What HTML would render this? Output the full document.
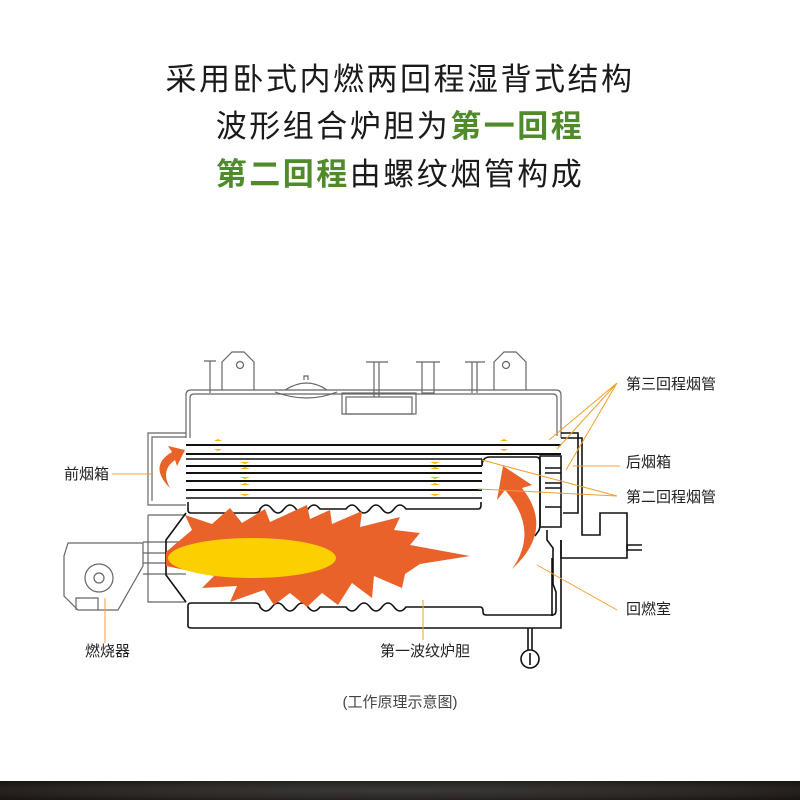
<!DOCTYPE html>
<html><head><meta charset="utf-8"><style>
body{margin:0;width:800px;height:800px;background:#fff;overflow:hidden;position:relative;font-family:"Liberation Sans","Noto Sans CJK SC",sans-serif}
.t{position:absolute;left:0;width:800px;text-align:center;font-size:31px;color:#1a1a1a;letter-spacing:2.5px;line-height:40px}
.g{color:#4f8a2b;font-weight:bold}
.bar{position:absolute;left:0;top:781px;width:800px;height:19px;background:radial-gradient(ellipse at center,#3b3a38 0%,#2a2624 60%,#1a120e 100%)}
</style></head><body>
<div class="t" style="top:60px">采用卧式内燃两回程湿背式结构</div>
<div class="t" style="top:107px">波形组合炉胆为<span class="g">第一回程</span></div>
<div class="t" style="top:155px"><span class="g">第二回程</span>由螺纹烟管构成</div>
<svg width="800" height="800" style="position:absolute;left:0;top:0" font-family="Liberation Sans,Noto Sans CJK SC,sans-serif">
<g fill="none" stroke="#666" stroke-width="1.2">
<path d="M186 438 V395 q0-5 5-5 H556 q5 0 5 5 V438"/>
<path d="M190 438 V398 q0-4 4-4 H553 q4 0 4 4 V436"/>
<path d="M222 390 V362 l10-10 h12 l10 10 V390"/><circle cx="240" cy="365" r="3.5"/>
<path d="M494 390 V362 l10-10 h12 l10 10 V390"/><circle cx="506" cy="365" r="3.5"/>
<path d="M204 361 h12 M210 361 V393"/>
<path d="M366 362 h22 M374 362 V397 M379 362 V397"/>
<path d="M416 362 h24 M422 362 V393 h12 V362"/>
<path d="M465 362 h20 M472 362 V393 M477 362 V393"/>
<path d="M275 392 q32 12 62 0 M285 390 q22-14 42 0"/>
<path d="M304 380 v-4 h4 v4"/>
<rect x="342" y="393" width="74" height="21"/>
<rect x="346" y="397" width="66" height="17"/>
<path d="M186 433 H148 V505 H186"/><path d="M186 437 H152 V501"/>
<path d="M148 515 H186"/>
<path d="M148 515 V602 H186"/>
<path d="M143 542 H186 M143 553 H186 M143 563 H186 M143 574 H186"/>
<path d="M68 543 H143 V566 L118 610 H78 L64 596 V556 Z"/>
<circle cx="99" cy="578" r="14"/><circle cx="99" cy="578" r="5"/>
<path d="M76 610 V598 H98 V610"/>
</g>
<g stroke="#111" stroke-width="2">
<line x1="186" y1="445" x2="561" y2="445"/>
<line x1="186" y1="454" x2="561" y2="454"/>
<line x1="186" y1="466" x2="482" y2="466"/>
<line x1="186" y1="473" x2="482" y2="473"/>
<line x1="186" y1="481" x2="482" y2="481"/>
<line x1="186" y1="490" x2="482" y2="490"/>
</g>
<g fill="none" stroke="#111" stroke-width="1.6">
<path d="M186 459 H482"/>
<path d="M186 498 H482"/>
<path d="M188 502 V510 q0 3 3 3 H254 q6 0 6-4 q6-8 12 0 q6 8 12 0 q6-8 12 0 q6 8 12 0 q6-8 12 0 H346 q6-8 12 0 q6 8 12 0 q6-8 12 0 q6 8 12 0 q6-8 12 0 H478 q3 0 3-4 V502"/>
<path d="M188 626 V606 q0-3 3-3 H254 q6 0 6 4 q6 8 12 0 q6-8 12 0 q6 8 12 0 q6-8 12 0 q6 8 12 0 H346 q6 8 12 0 q6-8 12 0 q6 8 12 0 q6-8 12 0 q6 8 12 0 H480 q3 0 3 4 V612 q0 3 3 3 H552 q4 0 4-4 V592 l-3-8 V548 l-6-8 V530"/>
<path d="M188 626 q0 2 4 2 H561 V540"/>
<path d="M186 513 L166 540 V575 L186 602"/>
<path d="M482 459 V466 q0-9 8-9 H536 q4 0 4 5 V525 q0 5 -3 8 L535 536"/>
<path d="M540 456 H561 V527 H540 Z"/>
<path d="M561 468 H545 M561 473 H545 M561 483 H545 M561 488 H545 M561 507 H545"/>
<path d="M561 438 H582 V535 H600 V513 H627 V550 H642"/>
<path d="M561 433 H578 V513 H563"/>
<path d="M561 540 V558 H627 V545 H642"/>
<path d="M552 558 V616"/>
<path d="M528 628 V650 M532 628 V650"/>
<circle cx="530" cy="659" r="9"/><path d="M530 653 V665"/>
</g>
<path fill="#e8622a" d="M166 552 L192 530 L185 515 L212 524 L230 508 L242 523 L265 509 L270 522 L307 505 L310 519 L330 510 L332 524 L362 511 L360 527 L400 517 L394 530 L420 533 L410 545 L470 556 L420 564 L405 574 L402 588 L374 576 L372 598 L352 583 L338 605 L322 593 L307 607 L290 593 L274 605 L264 590 L230 602 L237 586 L202 588 L214 576 L166 566 Z"/>
<ellipse cx="252" cy="558" rx="84" ry="20" fill="#fccf00"/>
<path fill="#e8622a" d="M170 488 Q148 466 172 452 L168 446 L185 450 L177 466 L175 460 Q160 470 170 488 Z"/>
<path fill="#e8622a" d="M512 569 Q540 530 505 490 L497 500 L503 466 L532 485 L522 488 Q555 530 512 569 Z"/>
<g fill="#f5b400">
<path d="M214 441 h8 l-4-2z M214 449 h8 l-4 2z M500 441 h8 l-4-2z M500 449 h8 l-4 2z"/>
<path d="M240 462 h10 l-5 2z M240 469 h10 l-5-2z M240 477 h10 l-5 2z M240 485 h10 l-5-2z M240 494 h10 l-5 2z"/>
<path d="M430 462 h10 l-5 2z M430 469 h10 l-5-2z M430 477 h10 l-5 2z M430 485 h10 l-5-2z M430 494 h10 l-5 2z"/>
</g>
<g stroke="#f0a030" stroke-width="1" fill="none">
<path d="M112 474 H153"/>
<path d="M617 383 L549 440 M617 383 L557 449 M617 383 L566 470"/>
<path d="M620 466 H573"/>
<path d="M617 496 L482 460 M617 496 L478 489"/>
<path d="M617 610 L537 565"/>
<path d="M105 598 V643"/>
<path d="M423 600 V640"/>
</g>
<g font-size="15" fill="#222">
<text x="64" y="479">前烟箱</text>
<text x="626" y="389">第三回程烟管</text>
<text x="626" y="467">后烟箱</text>
<text x="626" y="502">第二回程烟管</text>
<text x="626" y="614">回燃室</text>
<text x="85" y="656">燃烧器</text>
<text x="380" y="656">第一波纹炉胆</text>
<text x="400" y="707" text-anchor="middle" fill="#444">(工作原理示意图)</text>
</g>
</svg>
<div class="bar"></div>
</body></html>
